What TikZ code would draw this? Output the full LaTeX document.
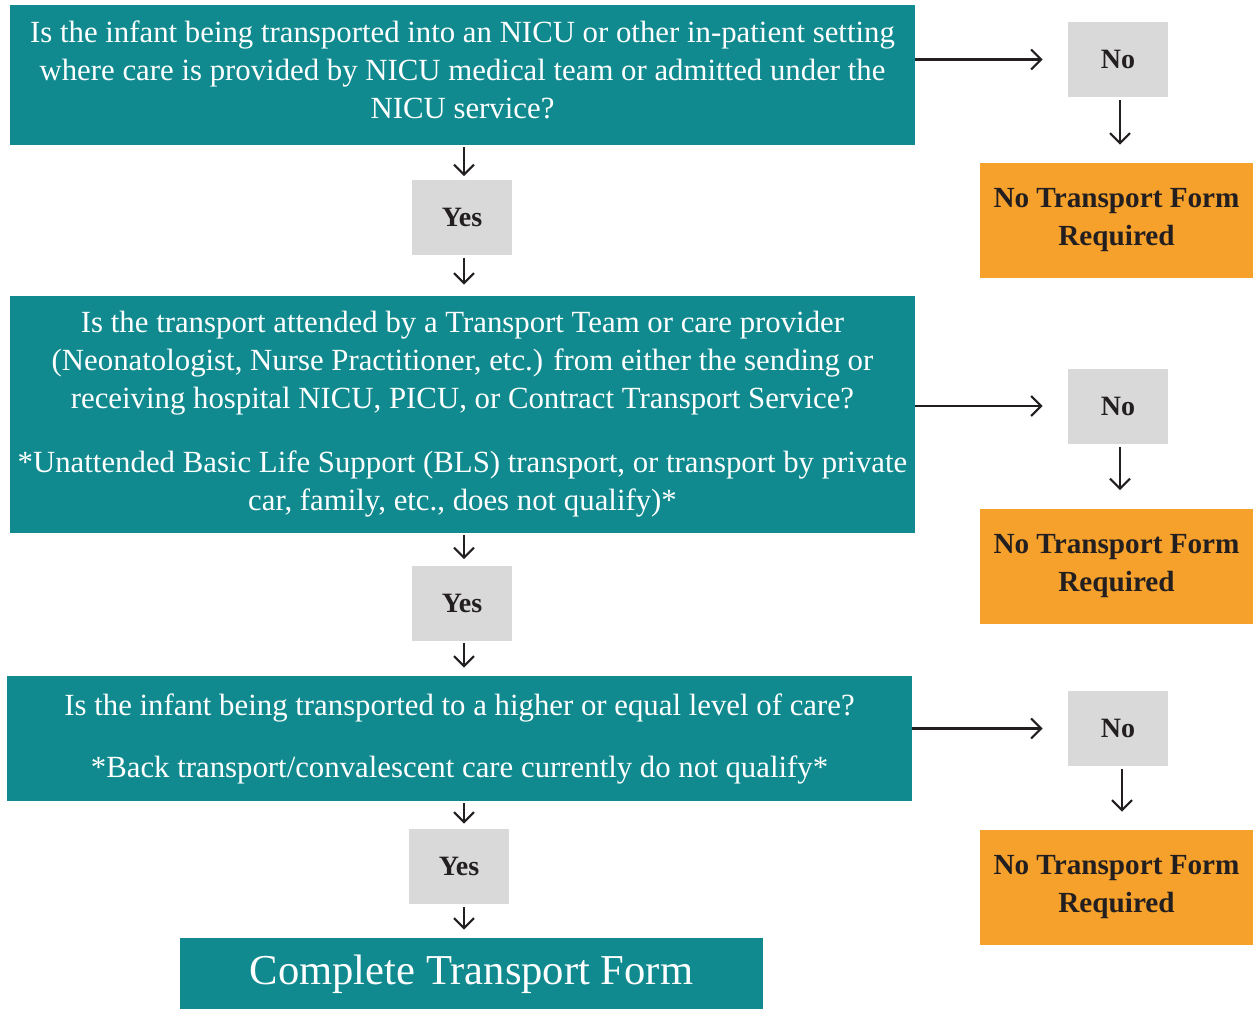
\documentclass[tikz,border=0pt]{standalone}
\usepackage{fontspec}
\setmainfont{Liberation Serif}
\usetikzlibrary{arrows.meta}
\definecolor{teal1}{RGB}{16,138,143}
\definecolor{grey1}{RGB}{217,217,217}
\definecolor{orange1}{RGB}{246,161,43}
\definecolor{ink}{RGB}{35,31,32}
\tikzset{
  qbox/.style={fill=teal1, text=white, inner sep=0pt, align=center, font=\fontsize{15.4}{19}\selectfont},
  ansbox/.style={fill=grey1, text=ink, inner sep=0pt, minimum width=50pt, minimum height=37.5pt, font=\fontsize{14}{19}\selectfont\bfseries},
  nobox/.style={fill=orange1, text=ink, inner sep=0pt, minimum width=136.5pt, minimum height=57.5pt, align=center, font=\fontsize{14.6}{19}\selectfont\bfseries},
  endbox/.style={fill=teal1, text=white, inner sep=0pt, minimum width=291.5pt, minimum height=36pt, font=\fontsize{21.3}{24}\selectfont},
  arr/.style={draw=ink, line width=1.05pt, -{Straight Barb[length=5pt,width=10pt,line width=1.05pt]}}
}
\begin{document}
\begin{tikzpicture}[x=0.5pt,y=-0.5pt]
\useasboundingbox (0,0) rectangle (1253,1008);
% questions
\node[qbox, minimum width=452.5pt, minimum height=70pt] (q1) at (462.5,75)
  {Is the infant being transported into an NICU or other in-patient setting\\
   where care is provided by NICU medical team or admitted under the\\
   NICU service?\\[-14pt]\mbox{}};
\node[qbox, minimum width=452.5pt, minimum height=118.5pt] (q2) at (462.5,414.5)
  {Is the transport attended by a Transport Team or care provider\\
   (Neonatologist, Nurse Practitioner, etc.) from either the sending or\\
   receiving hospital NICU, PICU, or Contract Transport Service?\\[13pt]
   *Unattended Basic Life Support (BLS) transport, or transport by private\\
   car, family, etc., does not qualify)*};
\node[qbox, minimum width=452.5pt, minimum height=62.5pt] (q3) at (459.5,738.5)
  {Is the infant being transported to a higher or equal level of care?\\[12pt]
   *Back transport/convalescent care currently do not qualify*};
% yes boxes
\node[ansbox] (y1) at (462,217) {Yes};
\node[ansbox] (y2) at (462,603) {Yes};
\node[ansbox] (y3) at (459,866.5) {Yes};
% final
\node[endbox] (f) at (471.5,974) {Complete Transport Form};
% no boxes
\node[ansbox] (n1) at (1118,59.5) {No};
\node[ansbox] (n2) at (1118,406) {No};
\node[ansbox] (n3) at (1118,728.5) {No};
% orange
\node[nobox] (o1) at (1116.5,220.5) {No Transport Form\\Required};
\node[nobox] (o2) at (1116.5,566) {No Transport Form\\Required};
\node[nobox] (o3) at (1116.5,887.5) {No Transport Form\\Required};
% vertical yes arrows
\draw[arr, shorten <=1pt, shorten >=1.5pt] ([xshift=1pt]q1.south -| y1) -- ([xshift=1pt]y1.north);
\draw[arr, shorten <=1.5pt, shorten >=5.5pt] ([xshift=1pt]y1.south) -- ([xshift=1pt]y1.south |- q2.north);
\draw[arr, shorten <=1pt, shorten >=3pt] ([xshift=1pt]q2.south -| y2) -- ([xshift=1pt]y2.north);
\draw[arr, shorten <=1pt, shorten >=4pt] ([xshift=1pt]y2.south) -- ([xshift=1pt]y2.south |- q3.north);
\draw[arr, shorten <=1pt, shorten >=2.5pt] ([xshift=2.5pt]q3.south -| y3) -- ([xshift=2.5pt]y3.north);
\draw[arr, shorten <=1.5pt, shorten >=4pt] ([xshift=2.5pt]y3.south) -- ([xshift=2.5pt]y3.south |- f.north);
% horizontal no arrows
\draw[arr, shorten >=12.5pt] (q1.east |- n1.west) -- (n1.west);
\draw[arr, shorten >=12.5pt] (q2.east |- n2.west) -- (n2.west);
\draw[arr, shorten >=12.5pt] (q3.east |- n3.west) -- (n3.west);
% down to orange
\draw[arr, shorten <=1.5pt, shorten >=9pt] ([xshift=1pt]n1.south) -- ([xshift=1pt]n1.south |- o1.north);
\draw[arr, shorten <=1.5pt, shorten >=9pt] ([xshift=1pt]n2.south) -- ([xshift=1pt]n2.south |- o2.north);
\draw[arr, shorten <=1.5pt, shorten >=9pt] ([xshift=2pt]n3.south) -- ([xshift=2pt]n3.south |- o3.north);
\end{tikzpicture}
\end{document}
